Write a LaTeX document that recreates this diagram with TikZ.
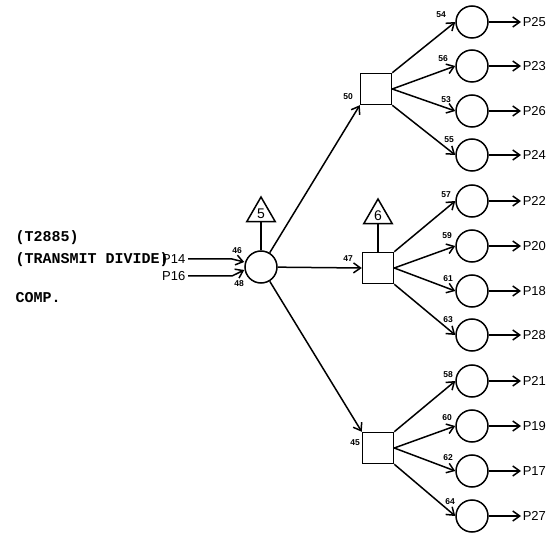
\documentclass[tikz,border=0pt]{standalone}
\usepackage{fontspec}
\setmainfont{Liberation Sans}
\setmonofont{Liberation Mono}
\usetikzlibrary{arrows.meta, shapes.geometric}

\begin{document}
\begin{tikzpicture}[
  x=1pt, y=-1pt,
  >={Straight Barb[length=7pt,width=10pt]},
  line width=1.5pt,
  font=\fontsize{13}{15}\selectfont,
  gate/.style={draw, circle, minimum size=32pt, inner sep=0pt},
  box/.style={draw, rectangle, minimum size=31pt, inner sep=0pt},
  tri/.style={draw, regular polygon, regular polygon sides=3, minimum size=33pt,
              inner sep=0pt, font=\fontsize{14}{14}\selectfont},
  pin/.style={font=\bfseries\fontsize{8.5}{9}\selectfont, inner sep=0pt},
  inp/.style={anchor=east, inner sep=2pt},
  outp/.style={anchor=west, inner sep=1pt},
  note/.style={anchor=west, inner sep=0pt, font=\ttfamily\bfseries\fontsize{15}{16}\selectfont}
]
\useasboundingbox (0,0) rectangle (560,540);
% left side notes
\node[note] (n1) at (15,238) {(T2885)};
\node[note] (n2) at (15,260) {(TRANSMIT DIVIDE)};
\node[note] (n3) at (15,298) {COMP.};
% input gate
\node[gate] (hub) at (261,267) {};
\node[tri] (t5) at (261,213.5) {5};
\draw (t5.south) -- (hub.north);
\node[inp] (p14) at (188,259) {P14};
\node[inp] (p16) at (188,276) {P16};
\draw[->] (p14.east) -- ++(44,0) -- ([yshift=5pt]hub.west);
\draw[->] (p16.east) -- ++(44,0) -- ([yshift=-3pt]hub.west);
\node[pin] at (237,251) {46};
\node[pin] at (239,284) {48};
% second stage
\node[box] (b50) at (376,89) {};
\node[box] (b47) at (378,268) {};
\node[box] (b45) at (378,448) {};
\node[tri] (t6) at (378,215.5) {6};
\draw (t6.south) -- (b47.north);
\draw[->] (hub) -- (b50.south west);
\draw[->] (hub) -- (b47.west);
\draw[->] (hub) -- (b45.north west);
\node[pin] at (348,97) {50};
\node[pin] at (348,259) {47};
\node[pin] at (355,443) {45};
% output gates
\foreach \n/\yy/\src/\lx/\ly/\p in {
  54/22/b50.north east/441/15/P25, 56/66/b50.east/443/59/P23,
  53/111/b50.east/446/100/P26, 55/155/b50.south east/449/140/P24,
  57/201/b47.north east/446/195/P22, 59/246/b47.east/447/236/P20,
  61/291/b47.east/448/279/P18, 63/335/b47.south east/448/320/P28,
  58/381/b45.north east/448/375/P21, 60/426/b45.east/447/418/P19,
  62/471/b45.east/448/458/P17, 64/516/b45.south east/450/502/P27} {
  \node[gate] (c\n) at (472,\yy) {};
  \node[pin] at (\lx,\ly) {\n};
  \node[outp] (o\n) at (521,\yy) {\p};
  \draw[->] (\src) -- (c\n.west);
  \draw[->] (c\n) -- (o\n);
}
\end{tikzpicture}
\end{document}
